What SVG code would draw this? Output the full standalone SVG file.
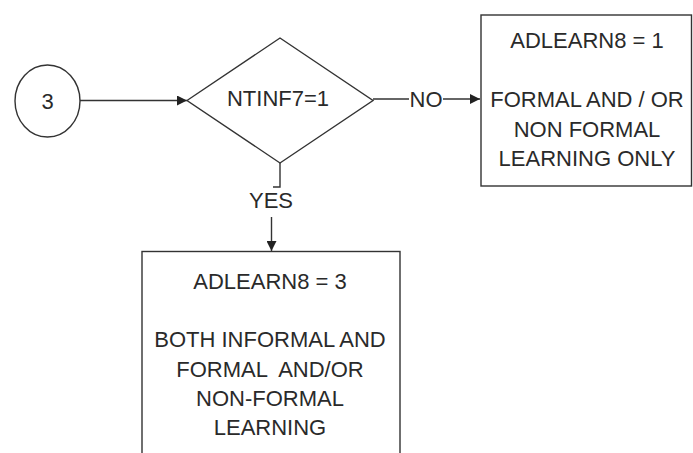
<svg xmlns="http://www.w3.org/2000/svg" width="693" height="453" viewBox="0 0 693 453">
<defs>
<style>
.s{fill:#fff;stroke:#333;stroke-width:1.4}
.c{fill:none;stroke:#333;stroke-width:1.4}
.t{font-family:"Liberation Sans",Arial,sans-serif;font-size:22px;fill:#2a2a2a;text-anchor:middle}
</style>
<marker id="ah" viewBox="0 0 10 10" refX="10" refY="5" markerWidth="10" markerHeight="10" markerUnits="userSpaceOnUse" orient="auto">
<path d="M0,0 L10,5 L0,10 z" fill="#222"/>
</marker>
</defs>
<rect width="693" height="453" fill="#fff"/>
<g id="connectors">
<line class="c" x1="80" y1="100.5" x2="187" y2="100.5" marker-end="url(#ah)"/>
<line class="c" x1="373" y1="99" x2="409" y2="99"/>
<text class="t" x="426" y="106.5">NO</text>
<line class="c" x1="443" y1="99" x2="480" y2="99" marker-end="url(#ah)"/>
<polyline class="c" points="280,163 280,187 273,187"/>
<text class="t" x="271" y="208">YES</text>
<line class="c" x1="271.5" y1="217" x2="271.5" y2="251" marker-end="url(#ah)"/>
</g>
<g id="start">
<ellipse class="s" cx="47.5" cy="101" rx="32.5" ry="36"/>
<text class="t" x="47.5" y="108.5">3</text>
</g>
<g id="decision">
<polygon class="s" points="187,100.5 280,38 373,100.5 280,163"/>
<text class="t" x="278" y="105.5">NTINF7=1</text>
</g>
<g id="out1">
<rect class="s" x="481" y="15" width="210.5" height="171"/>
<text class="t" x="587" y="48">ADLEARN8 = 1</text>
<text class="t" x="587" y="107">FORMAL AND / OR</text>
<text class="t" x="587" y="136.5">NON FORMAL</text>
<text class="t" x="587" y="165.5">LEARNING ONLY</text>
</g>
<g id="out3">
<rect class="s" x="142" y="251.5" width="258" height="220"/>
<text class="t" x="270" y="289">ADLEARN8 = 3</text>
<text class="t" x="270" y="347">BOTH INFORMAL AND</text>
<text class="t" x="270" y="377" xml:space="preserve">FORMAL  AND/OR</text>
<text class="t" x="270" y="406">NON-FORMAL</text>
<text class="t" x="270" y="435">LEARNING</text>
</g>
</svg>
